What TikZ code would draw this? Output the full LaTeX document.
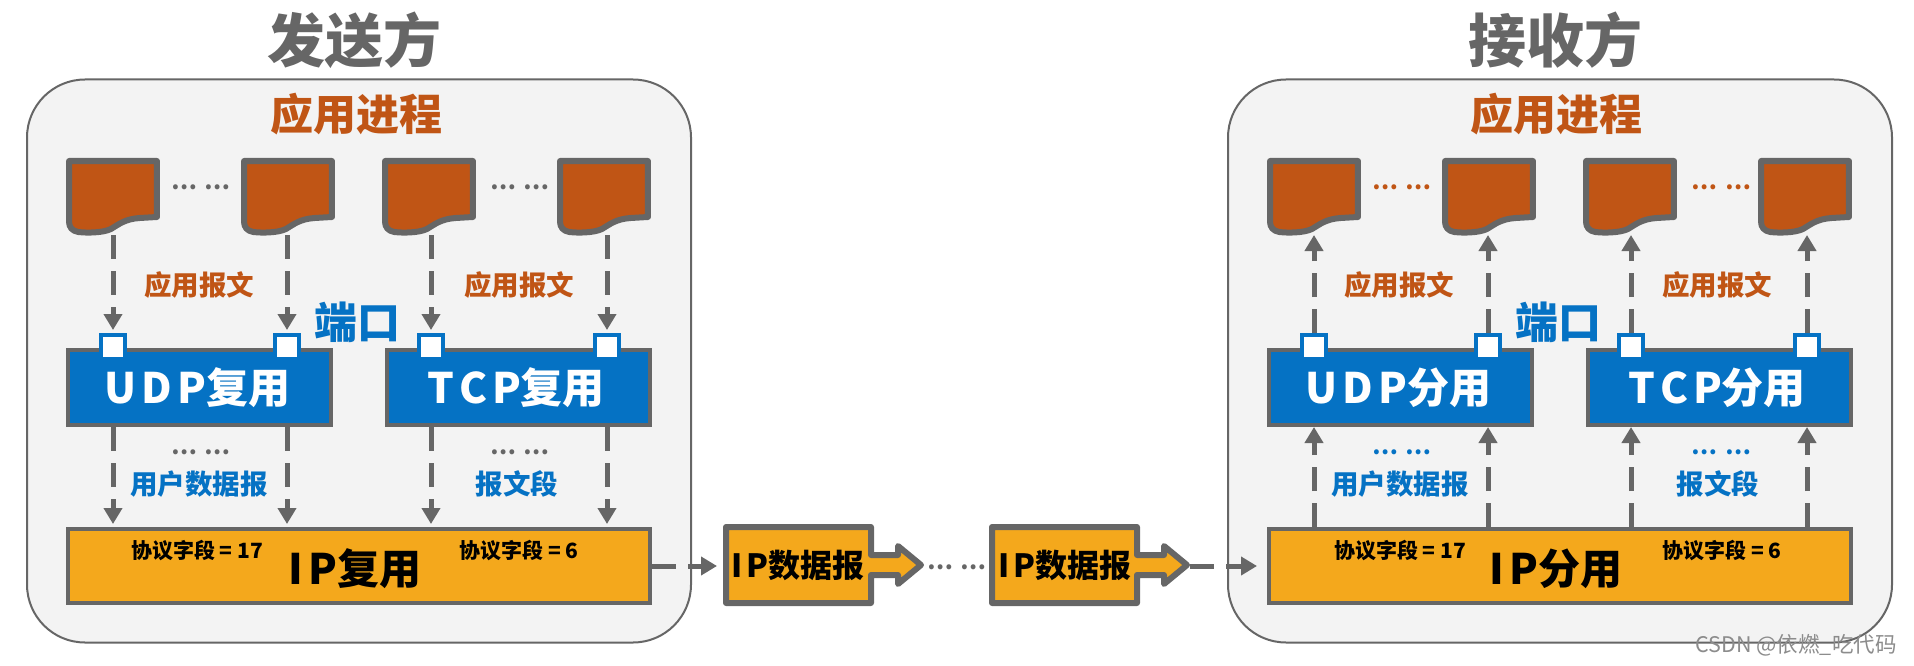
\documentclass[tikz,border=0pt]{standalone}
\usepackage{fontspec}
\usetikzlibrary{arrows.meta,calc}
\setmainfont{Noto Sans CJK SC}
\definecolor{ggray}{HTML}{666666}
\definecolor{panelbg}{HTML}{F3F3F3}
\definecolor{rust}{HTML}{C05515}
\definecolor{bblue}{HTML}{0572C4}
\definecolor{amber}{HTML}{F4A81C}
\newcommand{\fsz}[1]{\fontsize{#1}{#1}\selectfont\bfseries}
\tikzset{
  panel/.style={draw=ggray,line width=2pt,fill=panelbg,rounded corners=58pt,minimum width=664pt,minimum height=563pt,inner sep=0pt},
  docnode/.style={minimum width=94pt,minimum height=77pt,inner sep=0pt,outer sep=0pt},
  docpath/.style={draw=ggray,fill=rust,line width=6pt,line join=round},
  protobox/.style={draw=ggray,line width=4pt,fill=bblue,minimum width=263pt,minimum height=75pt,inner sep=0pt,text=white,font=\fsz{42}},
  ipbox/.style={draw=ggray,line width=4pt,fill=amber,minimum width=582pt,minimum height=74pt,inner sep=0pt},
  portbox/.style={draw=bblue,line width=4pt,fill=white,minimum size=24pt,inner sep=0pt},
  conn/.style={draw=ggray,line width=5pt,dash pattern=on 24pt off 12pt,-{Triangle[width=18pt,length=16pt]}},
  title/.style={text=ggray,font=\fsz{58}},
  proc/.style={text=rust,font=\fsz{43}},
  msg/.style={text=rust,font=\fsz{27.5}},
  seg/.style={text=bblue,font=\fsz{27.5}},
  portlab/.style={text=bblue,font=\fsz{43}},
  field/.style={text=black,font=\fsz{21}},
  iplab/.style={text=black,font=\fsz{42}},
  dgbox/.style={minimum width=151pt,minimum height=82pt,inner sep=0pt,outer sep=0pt},
  dgpath/.style={draw=ggray,fill=amber,line width=6pt,line join=round},
  dglab/.style={text=black,font=\fsz{32}},
  dots/.style={font=\fsz{23}}
}
\newcommand{\docat}[2]{%
  \node[docnode] (#1) at (#2+47,196.5) {};
  \draw[docpath,shift={(#2,158)},xscale=1.022] (3,3) -- (89,3) -- (89,59) -- (72,60)
    .. controls (58,61) and (52,66) .. (44,71) .. controls (36,75) and (20,75) .. (12,74)
    .. controls (6,73) and (3,69) .. (3,64) -- cycle;}
\newcommand{\dgat}[2]{%
  \node[dgbox] (#1) at (#2+75.5,565) {};
  \draw[dgpath,shift={(#2,524)}] (3,3) -- (148,3) -- (148,31) -- (175,31) -- (175,22) -- (198,41)
    -- (175,60) -- (175,51) -- (148,51) -- (148,79) -- (3,79) -- cycle;}
\begin{document}
\begin{tikzpicture}[x=1pt,y=-1pt]
\useasboundingbox (0,0) rectangle (1914,666);
% panels
\node[panel] (pl) at (359,361) {};
\node[panel] (pr) at (1560,361) {};
% titles
\node[title] (tl) at (354,40) {发送方};
\node[title] (tr) at (1555,40) {接收方};
\node[proc] (al) at (356,114) {应用进程};
\node[proc] (ar) at (1556,114) {应用进程};
% documents, left
\docat{d1}{66}\docat{d2}{241}\docat{d3}{382}\docat{d4}{557}
% documents, right
\docat{e1}{1267}\docat{e2}{1442}\docat{e3}{1583}\docat{e4}{1758}
% dots
\node[dots,text=ggray] (o1) at (201,187) {…\kern8pt…};
\node[dots,text=ggray] (o2) at (520,187) {…\kern8pt…};
\node[dots,text=rust] (o3) at (1402,187) {…\kern8pt…};
\node[dots,text=rust] (o4) at (1721,187) {…\kern8pt…};
\node[dots,text=ggray] (o5) at (201,452) {…\kern8pt…};
\node[dots,text=ggray] (o6) at (520,452) {…\kern8pt…};
\node[dots,text=bblue] (o7) at (1402,452) {…\kern8pt…};
\node[dots,text=bblue] (o8) at (1721,452) {…\kern8pt…};
% protocol boxes
\node[protobox] (udpm) at (199.5,387.5) {U\kern5pt D\kern5pt P复用\kern4pt};
\node[protobox] (tcpm) at (518,387.5) {T\kern5pt C\kern5pt P复用\kern4pt};
\node[protobox] (udpd) at (1400.5,387.5) {U\kern5pt D\kern5pt P分用\kern4pt};
\node[protobox] (tcpd) at (1719,387.5) {T\kern5pt C\kern5pt P分用\kern4pt};
% IP boxes
\node[ipbox] (ipm) at (359,566) {};
\node[ipbox] (ipd) at (1560,566) {};
\node[iplab] (ipml) at (355,569) {I\kern6pt P复用};
\node[iplab] (ipdl) at (1556,569) {I\kern6pt P分用};
\node[field] (f1) at (197,551) {协议字段 = 17};
\node[field] (f2) at (519,551) {协议字段 = 6};
\node[field] (f3) at (1400,551) {协议字段 = 17};
\node[field] (f4) at (1722,551) {协议字段 = 6};
% ports
\node[portbox] (p1) at (113,347) {};
\node[portbox] (p2) at (287,347) {};
\node[portbox] (p3) at (431,347) {};
\node[portbox] (p4) at (607,347) {};
\node[portbox] (q1) at (1314,347) {};
\node[portbox] (q2) at (1488,347) {};
\node[portbox] (q3) at (1631,347) {};
\node[portbox] (q4) at (1807,347) {};
% connectors: documents to ports
\draw[conn,shorten >=3pt] (d1.south -| p1) -- (p1.north);
\draw[conn,shorten >=3pt] (d2.south -| p2) -- (p2.north);
\draw[conn,shorten >=3pt] (d3.south -| p3) -- (p3.north);
\draw[conn,shorten >=3pt] (d4.south -| p4) -- (p4.north);
\draw[conn] (q1.north) -- (e1.south -| q1);
\draw[conn] (q2.north) -- (e2.south -| q2);
\draw[conn] (q3.north) -- (e3.south -| q3);
\draw[conn] (q4.north) -- (e4.south -| q4);
% connectors: protocol boxes and IP
\draw[conn,shorten >=3pt] (udpm.south -| p1) -- (ipm.north -| p1);
\draw[conn,shorten >=3pt] (udpm.south -| p2) -- (ipm.north -| p2);
\draw[conn,shorten >=3pt] (tcpm.south -| p3) -- (ipm.north -| p3);
\draw[conn,shorten >=3pt] (tcpm.south -| p4) -- (ipm.north -| p4);
\draw[conn] (ipd.north -| q1) -- (udpd.south -| q1);
\draw[conn] (ipd.north -| q2) -- (udpd.south -| q2);
\draw[conn] (ipd.north -| q3) -- (tcpd.south -| q3);
\draw[conn] (ipd.north -| q4) -- (tcpd.south -| q4);
% labels
\node[msg] (m1) at (199,285) {应用报文};
\node[msg] (m2) at (519,285) {应用报文};
\node[msg] (m3) at (1399,285) {应用报文};
\node[msg] (m4) at (1717,285) {应用报文};
\node[seg] (s1) at (199,484) {用户数据报};
\node[seg] (s2) at (517,484) {报文段};
\node[seg] (s3) at (1400,484) {用户数据报};
\node[seg] (s4) at (1718,484) {报文段};
\node[portlab] (k1) at (357,322) {端口};
\node[portlab] (k2) at (1558,322) {端口};
% datagrams
\dgat{g1}{723}
\dgat{g2}{989}
\node[dglab] (gl1) at (798,565) {I\kern4pt P数据报};
\node[dglab] (gl2) at (1065,565) {I\kern4pt P数据报};
\node[dots,text=ggray] (o9) at (957,567) {…\kern8pt…};
\coordinate (g2tip) at (1190,566);
\draw[conn,shorten >=6pt] (ipm.east) -- (ipm.east -| g1.west);
\draw[conn,shorten >=10pt] (g2tip) -- (ipd.west);
% watermark
\node[text=ggray!75,font=\fontsize{21.5}{21.5}\selectfont] (wm) at (1796,645) {CSDN @依燃\_吃代码};
\end{tikzpicture}
\end{document}
